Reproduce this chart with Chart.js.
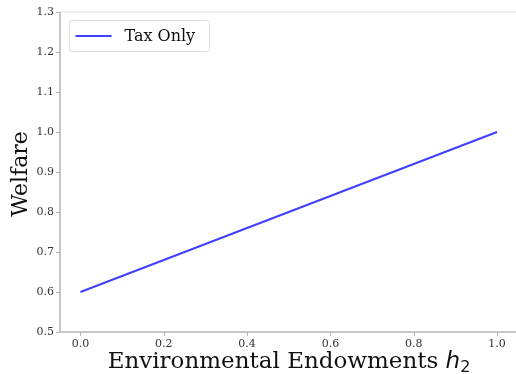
<!DOCTYPE html>
<html>
<head>
<meta charset="utf-8">
<script src="https://cdn.jsdelivr.net/npm/chart.js@4/dist/chart.umd.min.js"></script>
<style>
  html, body { margin: 0; padding: 0; background: #fff; overflow: hidden; }
  #wrap { width: 516px; height: 374px; position: relative; overflow: hidden; }
</style>
</head>
<body>
<div id="wrap"><canvas id="myChart" width="516" height="374"></canvas></div>
<script>
// data
const h2Values = [0.0, 0.25, 0.5, 0.75, 1.0];
const taxOnly = [0.6, 0.7, 0.8, 0.9, 1.0];
const xTicks = [0.0, 0.2, 0.4, 0.6, 0.8, 1.0];
const yTicks = [0.5, 0.6, 0.7, 0.8, 0.9, 1.0, 1.1, 1.2, 1.3];
const seriesName = "Tax Only";
const yTitle = "Welfare";

const serif = "'DejaVu Serif', serif";
const axisGray = "#b5b5b5";

// spines, tick marks, legend box, axis titles (x title has an italic h with subscript 2)
const extras = {
  id: "extras",
  afterDraw(chart) {
    const ctx = chart.ctx;
    const a = chart.chartArea;
    const xs = chart.scales.x, ys = chart.scales.y;
    ctx.save();
    // nothing on the right edge
    ctx.fillStyle = "#fff";
    ctx.fillRect(a.right - 3, a.top + 2, chart.width - a.right + 3, a.bottom - a.top - 3);

    // faint top edge
    ctx.strokeStyle = "#f0f0f0";
    ctx.lineWidth = 2;
    ctx.beginPath();
    ctx.moveTo(a.left, a.top);
    ctx.lineTo(chart.width, a.top);
    ctx.stroke();

    // left and bottom spines with small outward ticks
    ctx.strokeStyle = axisGray;
    ctx.lineWidth = 1.5;
    ctx.beginPath();
    ctx.moveTo(a.left, a.top);
    ctx.lineTo(a.left, a.bottom);
    ctx.lineTo(chart.width, a.bottom);
    ctx.stroke();
    ctx.lineWidth = 1;
    ctx.beginPath();
    xTicks.forEach((v) => {
      const px = Math.round(xs.getPixelForValue(v)) + 0.5;
      ctx.moveTo(px, a.bottom);
      ctx.lineTo(px, a.bottom + 4);
    });
    yTicks.forEach((v) => {
      const py = Math.round(ys.getPixelForValue(v)) + 0.5;
      ctx.moveTo(a.left - 4, py);
      ctx.lineTo(a.left, py);
    });
    ctx.stroke();

    // legend
    const bx = a.left + 9.5, by = a.top + 8.5, bw = 140, bh = 31;
    ctx.fillStyle = "rgba(255,255,255,0.9)";
    ctx.strokeStyle = "#dddddd";
    ctx.lineWidth = 1;
    ctx.beginPath();
    ctx.roundRect(bx, by, bw, bh, 3);
    ctx.fill();
    ctx.stroke();
    ctx.strokeStyle = "#4040ff";
    ctx.lineWidth = 2;
    ctx.beginPath();
    ctx.moveTo(bx + 6, by + bh / 2);
    ctx.lineTo(bx + 42, by + bh / 2);
    ctx.stroke();
    ctx.fillStyle = "#111";
    ctx.font = "16px " + serif;
    ctx.textBaseline = "middle";
    ctx.fillText(seriesName, bx + 55, by + bh / 2 + 1);

    // y axis title
    ctx.save();
    ctx.translate(21, 174);
    ctx.rotate(-Math.PI / 2);
    ctx.font = "22px " + serif;
    ctx.textAlign = "center";
    ctx.textBaseline = "middle";
    ctx.fillText(yTitle, 0, 0);
    ctx.restore();

    // x axis title
    const main = "Environmental Endowments ";
    ctx.font = "23px " + serif;
    const w1 = ctx.measureText(main).width;
    ctx.font = "italic 23px 'DejaVu Sans', sans-serif";
    const w2 = ctx.measureText("h").width;
    ctx.font = "16px 'DejaVu Sans', sans-serif";
    const w3 = ctx.measureText("2").width;
    let x = 289 - (w1 + w2 + w3) / 2;
    const y = 368;
    ctx.textAlign = "left";
    ctx.textBaseline = "alphabetic";
    ctx.fillStyle = "#111";
    ctx.font = "23px " + serif;
    ctx.fillText(main, x, y);
    x += w1;
    ctx.font = "italic 23px 'DejaVu Sans', sans-serif";
    ctx.fillText("h", x, y);
    x += w2;
    ctx.font = "16px 'DejaVu Sans', sans-serif";
    ctx.fillText("2", x, y + 4);
    ctx.restore();
  }
};

const ctx = document.getElementById("myChart").getContext("2d");
const chart = new Chart(ctx, {
  type: "line",
  data: {
    datasets: [
      {
        label: seriesName,
        data: h2Values.map((v, i) => ({ x: v, y: taxOnly[i] })),
        borderColor: "#4040ff",
        borderWidth: 2,
        pointRadius: 0,
        fill: false,
        tension: 0,
      },
    ],
  },
  options: {
    responsive: false,
    animation: false,
    layout: { padding: { top: 12, right: 0, left: 0, bottom: 0 } },
    plugins: { legend: { display: false }, tooltip: { enabled: false } },
    scales: {
      x: {
        type: "linear",
        min: -0.049,
        max: 1.0455,
        afterBuildTicks: (s) => { s.ticks = xTicks.map((v) => ({ value: v })); },
        afterFit: (s) => { s.height = 42; s.paddingLeft = 0; s.paddingRight = 0; },
        grid: { drawOnChartArea: false, drawTicks: true, tickLength: 4, color: "rgba(0,0,0,0)" },
        border: { display: false },
        ticks: {
          font: { family: serif, size: 11 },
          color: "#333",
          padding: 2,
          maxRotation: 0,
          callback: (v) => v.toFixed(1),
        },
      },
      y: {
        min: 0.5,
        max: 1.3,
        afterBuildTicks: (s) => { s.ticks = yTicks.map((v) => ({ value: v })); },
        afterFit: (s) => { s.width = 60; s.paddingTop = 0; s.paddingBottom = 0; },
        grid: { drawOnChartArea: false, drawTicks: true, tickLength: 4, color: "rgba(0,0,0,0)" },
        border: { display: false },
        ticks: {
          font: { family: serif, size: 11 },
          color: "#333",
          padding: 2,
          callback: (v) => v.toFixed(1),
        },
      },
    },
  },
  plugins: [extras],
});
</script>
</body>
</html>
